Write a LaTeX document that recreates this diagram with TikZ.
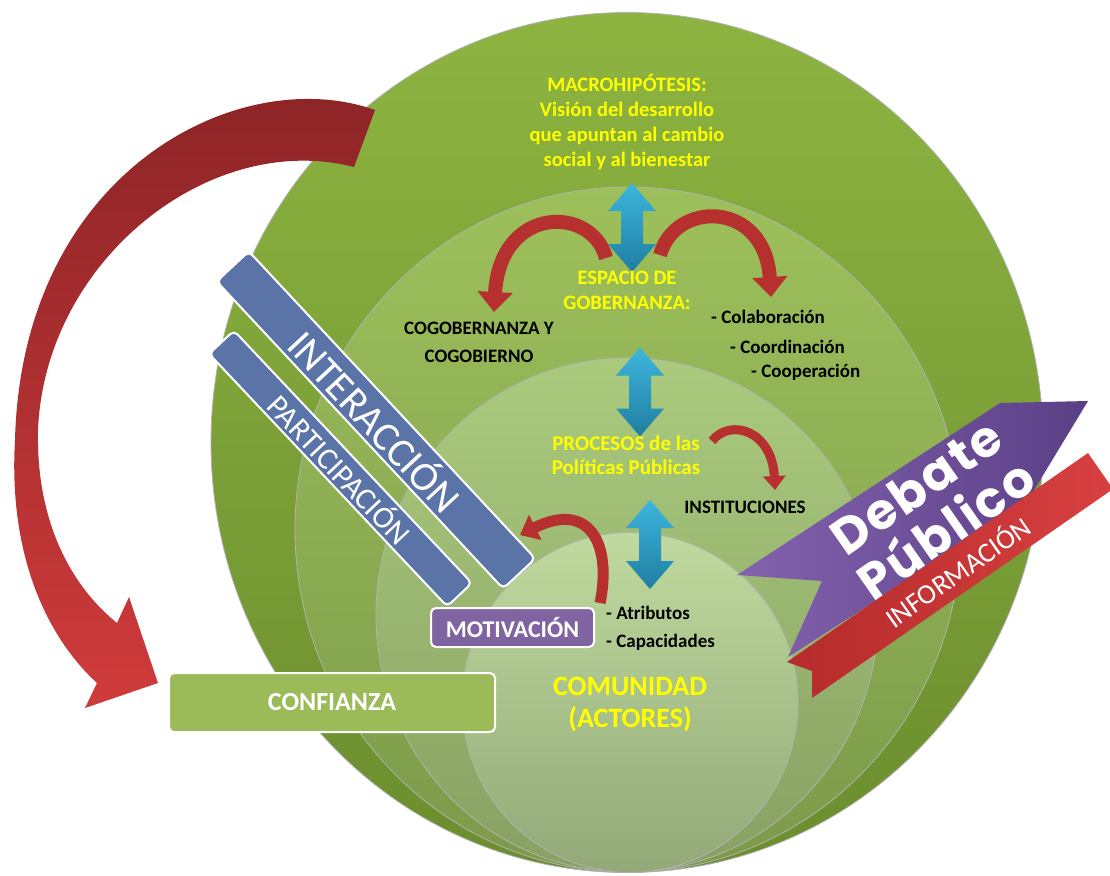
\documentclass[tikz,border=0pt]{standalone}
\usepackage{fontspec}
\setmainfont{Carlito}
\newfontfamily\debfont{Poppins}[LetterSpace=4]
\usetikzlibrary{arrows.meta}
\definecolor{gOuterT}{HTML}{8DB441}
\definecolor{gOuterB}{HTML}{6B8D2E}
\definecolor{gLtwoT}{HTML}{9DC05B}
\definecolor{gLtwoB}{HTML}{7C9A4A}
\definecolor{gLthreeT}{HTML}{AACB7E}
\definecolor{gLthreeB}{HTML}{88A062}
\definecolor{gInT}{HTML}{BFD99E}
\definecolor{gInB}{HTML}{93A978}
\definecolor{barblue}{HTML}{5B74A8}
\definecolor{motpurple}{HTML}{8064A2}
\definecolor{confgreen}{HTML}{9BBB59}
\definecolor{ylw}{HTML}{FFFF00}
\definecolor{arrowred}{HTML}{B5302F}
\definecolor{bigredT}{HTML}{8A2326}
\definecolor{bigredB}{HTML}{D03B3B}
\definecolor{blueT}{HTML}{3DB6DE}
\definecolor{blueB}{HTML}{1F7EA1}
\definecolor{debL}{HTML}{8462AE}
\definecolor{debR}{HTML}{5A3F86}
\definecolor{infoL}{HTML}{B52B2B}
\definecolor{infoR}{HTML}{D84040}
\tikzset{
  dblarrow/.pic={
    \path[top color=blueT, bottom color=blueB]
      (0,-44.5) -- (24,-16.5) -- (11,-16.5) -- (11,16.5) -- (24,16.5) -- (0,44.5)
      -- (-24,16.5) -- (-11,16.5) -- (-11,-16.5) -- (-24,-16.5) -- cycle;
  }
}
\begin{document}
\begin{tikzpicture}[x=1pt,y=-1pt,
  layerline/.style={draw=black!30, line width=0.8pt},
  bar/.style={draw=white, line width=2pt, fill=barblue, rounded corners=5pt, text=white, inner sep=0pt},
  tagbox/.style={draw=white, line width=2pt, rounded corners=5pt, text=white, inner sep=0pt},
  ylab/.style={text=ylw, align=center, inner sep=0pt},
  blab/.style={text=black, font=\bfseries\fontsize{19}{22}\selectfont, inner sep=0pt},
  redarr/.style={draw=arrowred, line width=#1},
]
\useasboundingbox (0,0) rectangle (1110,875);

% nested layers
\path[layerline, top color=gOuterT, bottom color=gOuterB] (627,442.5) ellipse [x radius=416, y radius=430];
\path[layerline, top color=gLtwoT, bottom color=gLtwoB] (628,529.5) ellipse [x radius=333, y radius=342.5];
\path[layerline, top color=gLthreeT, bottom color=gLthreeB] (627,615) ellipse [x radius=251, y radius=257];
\path[layerline, top color=gInT, bottom color=gInB] (630,702.5) ellipse [x radius=168, y radius=170];

% big red curved arrow
\path[top color=bigredT, bottom color=bigredB]
  (375,110) .. controls (240,62) and (22,170) .. (15,440)
  .. controls (8,560) and (50,640) .. (97,683)
  -- (85,708) -- (158,683) -- (129,597) -- (117,623)
  .. controls (70,585) and (36,520) .. (38,430)
  .. controls (45,260) and (210,130) .. (354,167) -- cycle;

% blue double arrows
\pic (bone) at (632,227.5) {dblarrow};
\pic (btwo) at (640,392) {dblarrow};
\pic (bthree) at (650,544.5) {dblarrow};

% bars
\node[bar, minimum width=347, minimum height=34, rotate=-46.7] (partic) at (340.5,468.5)
  {\fontsize{31}{31}\selectfont PARTICIPACIÓN};
\node[bar, minimum width=420, minimum height=44, rotate=-47] (inter) at (376,420)
  {\fontsize{41}{41}\selectfont INTERACCIÓN};

% boxes
\node[tagbox, fill=confgreen, minimum width=326, minimum height=59, font=\bfseries\fontsize{26}{26}\selectfont] (conf) at (332,702.5) {CONFIANZA};
\node[tagbox, fill=motpurple, minimum width=163, minimum height=39, font=\bfseries\fontsize{24}{24}\selectfont] (motiv) at (512.5,627.5) {MOTIVACIÓN};

% small red arrows
\coordinate (raS) at (606,258); \coordinate (raE) at (494,312);
\coordinate (rbS) at (660,255); \coordinate (rbE) at (771,297);
\coordinate (rcS) at (712,441); \coordinate (rcE) at (775,490);
\coordinate (rdS) at (600,603); \coordinate (rdE) at (520,535);
\draw[redarr=14, -{Triangle[width=34pt,length=20pt]}] (raS) .. controls (592,205) and (500,205) .. (raE);
\draw[redarr=14, -{Triangle[width=34pt,length=20pt]}] (rbS) .. controls (675,200) and (765,200) .. (rbE);
\draw[redarr=9, -{Triangle[width=22pt,length=14pt]}] (rcS) .. controls (730,418) and (772,430) .. (rcE);
\draw[redarr=11, -{Triangle[width=27pt,length=17pt]}] (rdS) .. controls (612,545) and (590,500) .. (rdE);

% yellow labels
\node[ylab, font=\bfseries\fontsize{20.5}{24.7}\selectfont] (macro) at (627,122)
  {MACROHIPÓTESIS:\\Visión del desarrollo\\que apuntan al cambio\\social y al bienestar};
\node[ylab, font=\bfseries\fontsize{20.5}{25}\selectfont] (espacio) at (627,290) {ESPACIO DE\\GOBERNANZA:};
\node[ylab, font=\bfseries\fontsize{21}{24}\selectfont] (procesos) at (626,455) {PROCESOS de las\\Políticas Públicas};
\node[ylab, font=\bfseries\fontsize{28}{32}\selectfont] (comunidad) at (630,704) {COMUNIDAD\\(ACTORES)};

% black labels
\node[blab, align=center, font=\bfseries\fontsize{19}{28}\selectfont] (cogob) at (479,342) {COGOBERNANZA Y\\COGOBIERNO};
\node[blab, anchor=west] (colab) at (711,317) {- Colaboración};
\node[blab, anchor=west] (coord) at (730,347) {- Coordinación};
\node[blab, anchor=west] (coop) at (751,372) {- Cooperación};
\node[blab] (instit) at (745,507) {INSTITUCIONES};
\node[blab, anchor=west] (atrib) at (606,613) {- Atributos};
\node[blab, anchor=west] (capac) at (606,642) {- Capacidades};

% Debate Publico banner
\path[left color=debL, right color=debR]
  (1088,401) -- (1000,403) -- (737,575) -- (822,581) -- (788,657) -- (1025,505) -- cycle;
\path[left color=infoL, right color=infoR]
  (787,662) -- (812,671) -- (812,698) -- (1113,489) -- (1088,453) -- cycle;
\node[text=white, rotate=35, align=center, inner sep=0pt,
      font=\debfont\bfseries\fontsize{50}{52}\selectfont] (debate) at (931,508) {Debate\\Público};
\node[text=white, rotate=35, inner sep=0pt, font=\fontsize{28}{28}\selectfont] (info) at (957,571) {INFORMACIÓN};
\end{tikzpicture}
\end{document}
